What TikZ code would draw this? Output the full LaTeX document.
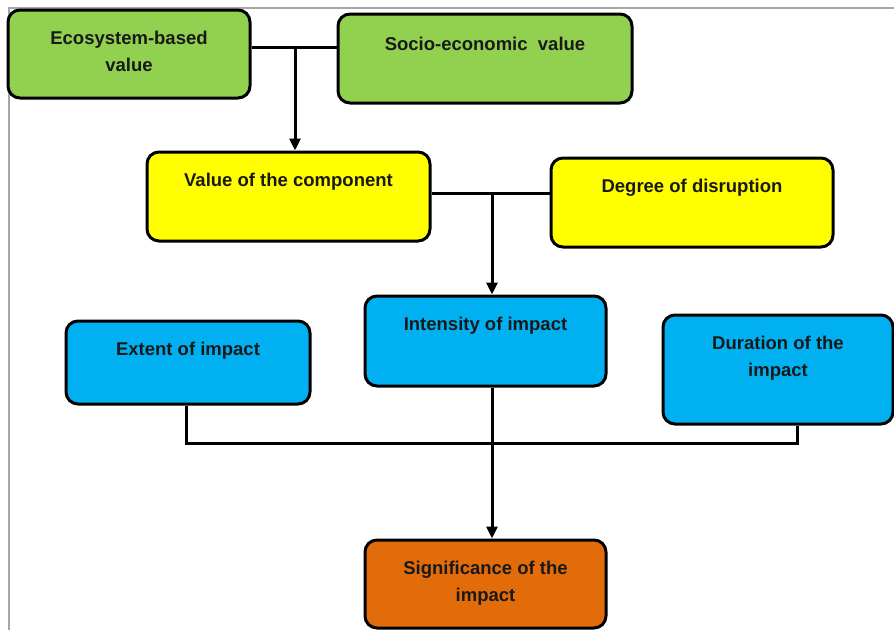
\documentclass[tikz,border=0pt]{standalone}
\usepackage{fontspec}
\setmainfont{Liberation Sans}
\usetikzlibrary{arrows.meta}

\definecolor{ecogreen}{HTML}{92D050}
\definecolor{valyellow}{HTML}{FFFF00}
\definecolor{impblue}{HTML}{00B0F0}
\definecolor{sigorange}{HTML}{E36C0A}
\definecolor{framegray}{HTML}{A6A6A6}

\begin{document}
\begin{tikzpicture}[x=1pt, y=-1pt, line width=3pt,
    box/.style={draw, rounded corners=12pt, inner sep=0pt},
    txt/.style={anchor=north, yshift=-21pt, inner sep=0pt, align=center,
        font=\bfseries\fontsize{18.5}{27}\selectfont, text=black!90},
    arr/.style={-{Triangle[length=12pt,width=11pt]}}]
        \useasboundingbox (0,0) rectangle (894,630);
        \draw[framegray, line width=1.2pt] (9,630) -- (9,8) -- (894,8);

        % values
        \node[box, fill=ecogreen, minimum width=242pt, minimum height=88pt,
            label={[txt]north:Ecosystem-based\\value}] (eco) at (129,54) {};
        \node[box, fill=ecogreen, minimum width=294pt, minimum height=89pt,
            label={[txt, yshift=-2pt]north:Socio-economic\ \ value}] (socio) at (485,58.5) {};
        \node[box, fill=valyellow, minimum width=283pt, minimum height=89pt,
            label={[txt]north:Value of the component}] (value) at (288.5,196.5) {};
        \node[box, fill=valyellow, minimum width=282pt, minimum height=89pt,
            label={[txt]north:Degree of disruption}] (degree) at (692,202.5) {};

        % impact
        \node[box, fill=impblue, minimum width=244pt, minimum height=83pt,
            label={[txt]north:Extent of impact}] (extent) at (188,362.5) {};
        \node[box, fill=impblue, minimum width=241pt, minimum height=90pt,
            label={[txt]north:Intensity of impact}] (intens) at (485.5,341) {};
        \node[box, fill=impblue, minimum width=230pt, minimum height=109pt,
            label={[txt]north:Duration of the\\impact}] (duration) at (778,369.5) {};
        \node[box, fill=sigorange, minimum width=241pt, minimum height=88pt,
            label={[txt]north:Significance of the\\impact}] (signif) at (485.5,584) {};

        % connectors
        \coordinate (j1) at (295,47);
        \coordinate (j2) at (492,193);
        \coordinate (j3) at (186,443);
        \coordinate (j4) at (797,443);
        \draw (eco.east |- j1) -- (socio.west |- j1);
        \draw[arr] (j1) -- (j1 |- value.north);
        \draw (value.east |- j2) -- (degree.west |- j2);
        \draw[arr] (j2) -- (j2 |- intens.north);
        \draw[arr] (j2 |- intens.south) -- (j2 |- signif.north);
        \draw (j3 |- extent.south) -- (j3) -- (j4) -- (j4 |- duration.south);
\end{tikzpicture}
\end{document}
